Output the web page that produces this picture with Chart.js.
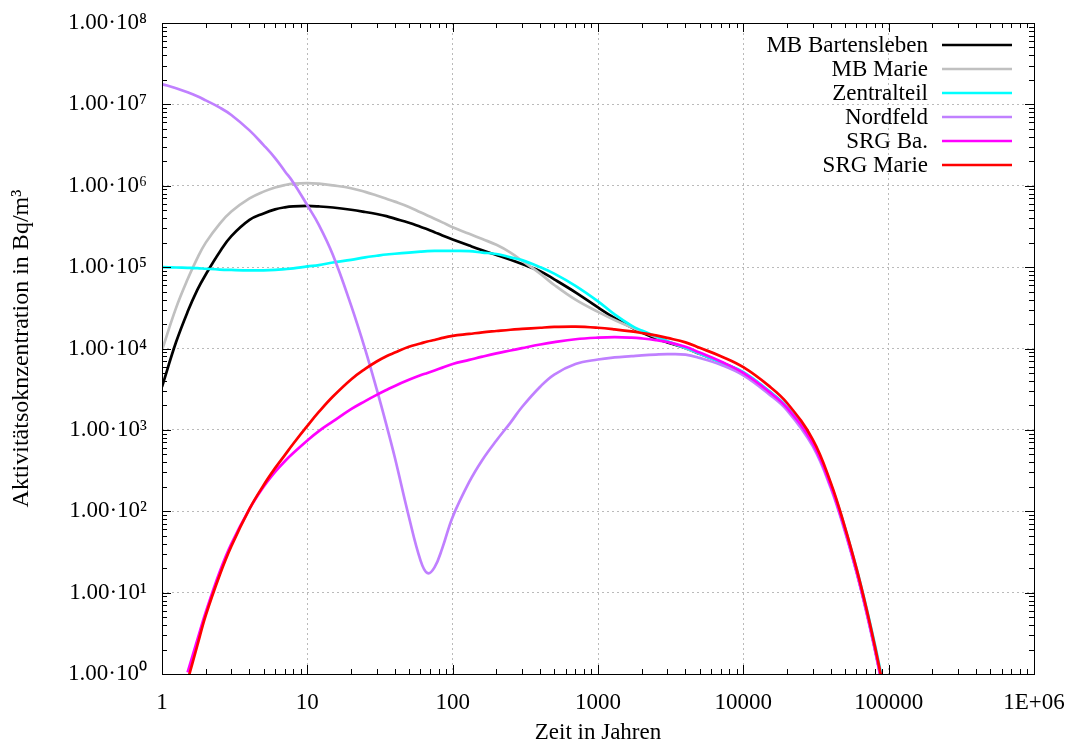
<!DOCTYPE html>
<html>
<head>
<meta charset="utf-8">
<script src="https://cdn.jsdelivr.net/npm/chart.js@4.4.0/dist/chart.umd.min.js"></script>
<style>html,body{margin:0;padding:0;background:#fff}canvas{display:block}</style>
</head>
<body>
<canvas id="c" width="1076" height="747"></canvas>
<script>
const years = [1, 1.25, 1.5, 1.75, 2, 2.5, 3, 4, 5, 6,
  7, 8, 10, 12, 15, 20, 25, 30, 35, 40,
  50, 60, 67, 75, 85, 100, 130, 160, 200, 250,
  300, 400, 500, 700, 1000, 1300, 1700, 2000, 2500, 3000,
  4000, 5000, 7000, 10000, 15000, 20000, 30000, 40000, 50000, 60000,
  70000, 80000, 90000];

const mbBartensleben = [3.39e3, 1.20e4, 2.82e4, 5.25e4, 8.13e4, 1.55e5, 2.40e5, 3.80e5, 4.57e5, 5.13e5,
  5.43e5, 5.58e5, 5.65e5, 5.57e5, 5.40e5, 5.07e5, 4.76e5, 4.49e5, 4.23e5, 3.94e5,
  3.51e5, 3.13e5, 2.92e5, 2.69e5, 2.45e5, 2.19e5, 1.84e5, 1.61e5, 1.41e5, 1.23e5,
  1.09e5, 8.91e4, 7.08e4, 4.90e4, 3.20e4, 2.37e4, 1.82e4, 1.57e4, 1.33e4, 1.19e4,
  1.01e4, 8.61e3, 6.76e3, 5.01e3, 2.95e3, 1.86e3, 682, 203, 59.6, 18.6,
  6.17, 2.14, 0.78];

const mbMarie = [9.55e3, 3.16e4, 7.08e4, 1.29e5, 2.0e5, 3.43e5, 4.82e5, 6.98e5, 8.47e5, 9.53e5,
  1.02e6, 1.06e6, 1.08e6, 1.06e6, 1.01e6, 9.33e5, 8.41e5, 7.59e5, 6.92e5, 6.38e5,
  5.50e5, 4.73e5, 4.32e5, 3.94e5, 3.55e5, 3.09e5, 2.57e5, 2.21e5, 1.88e5, 1.51e5,
  1.20e5, 8.32e4, 6.03e4, 3.98e4, 2.82e4, 2.24e4, 1.82e4, 1.62e4, 1.38e4, 1.22e4,
  1.01e4, 8.61e3, 6.76e3, 5.01e3, 2.95e3, 1.86e3, 682, 203, 59.6, 18.6,
  6.17, 2.14, 0.78];

const zentralteil = [1.0e5, 9.9e4, 9.8e4, 9.7e4, 9.55e4, 9.33e4, 9.23e4, 9.12e4, 9.12e4, 9.23e4,
  9.44e4, 9.66e4, 1.02e5, 1.06e5, 1.14e5, 1.23e5, 1.32e5, 1.38e5, 1.43e5, 1.46e5,
  1.51e5, 1.55e5, 1.57e5, 1.58e5, 1.58e5, 1.58e5, 1.57e5, 1.51e5, 1.45e5, 1.32e5,
  1.22e5, 1.0e5, 8.32e4, 5.89e4, 3.80e4, 2.63e4, 1.91e4, 1.66e4, 1.41e4, 1.23e4,
  1.02e4, 8.71e3, 6.76e3, 5.13e3, 3.02e3, 1.91e3, 708, 214, 63.1, 20.0,
  6.76, 2.40, 0.89];

const nordfeld = [1.78e7, 1.58e7, 1.41e7, 1.26e7, 1.12e7, 9.12e6, 7.41e6, 4.79e6, 3.16e6, 2.19e6,
  1.51e6, 1.10e6, 5.75e5, 3.31e5, 1.41e5, 3.39e4, 9.77e3, 3.16e3, 1.15e3, 457,
  85.1, 25.1, 17.4, 20.4, 35.5, 85.1, 229, 427, 741, 1.23e3,
  1.91e3, 3.39e3, 4.79e3, 6.46e3, 7.33e3, 7.76e3, 8.04e3, 8.22e3, 8.41e3, 8.51e3,
  8.41e3, 7.67e3, 6.31e3, 4.68e3, 2.75e3, 1.74e3, 631, 191, 56.2, 17.8,
  5.89, 2.04, 0.74];

const srgBa = [null, null, 1.05, 2.63, 5.75, 18.2, 39.8, 107, 200, 305,
  412, 519, 741, 966, 1.27e3, 1.80e3, 2.26e3, 2.69e3, 3.09e3, 3.47e3,
  4.12e3, 4.68e3, 5.01e3, 5.37e3, 5.82e3, 6.46e3, 7.24e3, 7.94e3, 8.71e3, 9.44e3,
  1.01e4, 1.12e4, 1.20e4, 1.30e4, 1.36e4, 1.38e4, 1.36e4, 1.33e4, 1.27e4, 1.20e4,
  1.05e4, 8.91e3, 6.92e3, 5.01e3, 2.95e3, 1.86e3, 682, 203, 59.6, 18.6,
  6.17, 2.14, 0.78];

const srgMarie = [null, null, 0.83, 2.24, 5.25, 16.6, 37.2, 107, 209, 339,
  490, 676, 1.12e3, 1.66e3, 2.57e3, 4.17e3, 5.62e3, 6.92e3, 8.04e3, 8.91e3,
  1.05e4, 1.15e4, 1.22e4, 1.27e4, 1.35e4, 1.43e4, 1.51e4, 1.58e4, 1.64e4, 1.70e4,
  1.74e4, 1.80e4, 1.84e4, 1.86e4, 1.80e4, 1.72e4, 1.62e4, 1.55e4, 1.45e4, 1.35e4,
  1.19e4, 1.02e4, 8.04e3, 5.89e3, 3.47e3, 2.14e3, 766, 223, 63.8, 20.0,
  6.61, 2.29, 0.83];

const seriesNames = ['MB Bartensleben', 'MB Marie', 'Zentralteil', 'Nordfeld', 'SRG Ba.', 'SRG Marie'];
const seriesValues = [mbBartensleben, mbMarie, zentralteil, nordfeld, srgBa, srgMarie];
const seriesColors = ['#000000', '#c0c0c0', '#00ffff', '#c080ff', '#ff00ff', '#ff0000'];

const xTickValues = [1, 10, 100, 1000, 10000, 100000, 1000000];
const xTickLabels = ['1', '10', '100', '1000', '10000', '100000', '1E+06'];
const yTickValues = [1, 10, 100, 1e3, 1e4, 1e5, 1e6, 1e7, 1e8];
const yTickLabels = ['1.00·10⁰', '1.00·10¹', '1.00·10²', '1.00·10³', '1.00·10⁴', '1.00·10⁵', '1.00·10⁶', '1.00·10⁷', '1.00·10⁸'];

const xTitle = 'Zeit in Jahren';
const yTitle = 'Aktivitätsoknzentration in Bq/m³';

const FONT = "'Liberation Serif', 'Times New Roman', serif";

const datasets = seriesNames.map((name, i) => ({
  label: name,
  data: years.map((t, k) => ({ x: t, y: seriesValues[i][k] })),
  borderColor: seriesColors[i],
  backgroundColor: seriesColors[i],
  borderWidth: 2.7,
  pointRadius: 0,
  fill: false,
  tension: 0.4,
  order: seriesNames.length - 1 - i
}));

function logTicks(min, max) {
  const out = [];
  for (let d = Math.round(Math.log10(min)); Math.pow(10, d) < max; d++) {
    for (let m = 1; m <= 9; m++) {
      const v = m * Math.pow(10, d);
      if (v >= min && v <= max) out.push({ v, major: m === 1 });
    }
  }
  out.push({ v: max, major: true });
  return out;
}

const framePlugin = {
  id: 'frame',
  afterDraw(chart) {
    const { ctx, chartArea: { left, right, top, bottom }, scales: { x, y } } = chart;
    ctx.save();
    ctx.strokeStyle = '#000';
    ctx.lineWidth = 1;
    ctx.beginPath();
    logTicks(x.min, x.max).forEach(t => {
      const px = Math.round(x.getPixelForValue(t.v)) + 0.5;
      const len = t.major ? 9 : 5;
      ctx.moveTo(px, bottom); ctx.lineTo(px, bottom - len);
      ctx.moveTo(px, top); ctx.lineTo(px, top + len);
    });
    logTicks(y.min, y.max).forEach(t => {
      const py = Math.round(y.getPixelForValue(t.v)) + 0.5;
      const len = t.major ? 9 : 5;
      ctx.moveTo(left, py); ctx.lineTo(left + len, py);
      ctx.moveTo(right, py); ctx.lineTo(right - len, py);
    });
    ctx.stroke();
    ctx.strokeRect(Math.round(left) + 0.5, Math.round(top) + 0.5, Math.round(right - left), Math.round(bottom - top));

    // legend (text right-aligned, sample line on the right)
    ctx.font = '23px ' + FONT;
    ctx.textAlign = 'right';
    ctx.textBaseline = 'middle';
    ctx.fillStyle = '#000';
    chart.data.datasets.forEach((ds, i) => {
      const ly = 45 + 24 * i;
      ctx.fillText(ds.label, 928, ly + 1);
      ctx.beginPath();
      ctx.strokeStyle = ds.borderColor;
      ctx.lineWidth = 2.7;
      ctx.moveTo(942, ly);
      ctx.lineTo(1012, ly);
      ctx.stroke();
    });
    ctx.restore();
  }
};

new Chart(document.getElementById('c'), {
  type: 'line',
  data: { datasets },
  options: {
    responsive: false,
    animation: false,
    devicePixelRatio: 1,
    layout: { padding: { left: 0, right: 42, top: 23, bottom: 0 } },
    plugins: { legend: { display: false }, tooltip: { enabled: false } },
    scales: {
      x: {
        type: 'logarithmic',
        min: 1, max: 1e6,
        afterBuildTicks: s => { s.ticks = xTickValues.map(v => ({ value: v })); },
        afterFit: s => { s.height = 73; s.paddingLeft = 0; s.paddingRight = 0; },
        ticks: {
          autoSkip: false, maxRotation: 0, padding: 15,
          color: '#000', font: { family: FONT, size: 23 },
          callback: (v, i) => xTickLabels[i]
        },
        grid: { color: '#bababa', lineWidth: 1, drawTicks: false },
        border: { display: false, dash: [2, 3] },
        title: { display: true, text: xTitle, color: '#000', font: { family: FONT, size: 23 }, padding: { top: 0, bottom: 0 } }
      },
      y: {
        type: 'logarithmic',
        min: 1, max: 1e8,
        afterBuildTicks: s => { s.ticks = yTickValues.map(v => ({ value: v })); },
        afterFit: s => { s.width = 162; s.paddingTop = 0; s.paddingBottom = 0; },
        ticks: {
          autoSkip: false, padding: 15,
          color: '#000', font: { family: FONT, size: 23 },
          callback: (v, i) => yTickLabels[i]
        },
        grid: { color: '#bababa', lineWidth: 1, drawTicks: false },
        border: { display: false, dash: [2, 3] },
        title: { display: true, text: yTitle, color: '#000', font: { family: FONT, size: 24 }, padding: { top: 7, bottom: 0 } }
      }
    }
  },
  plugins: [framePlugin]
});
</script>
</body>
</html>
